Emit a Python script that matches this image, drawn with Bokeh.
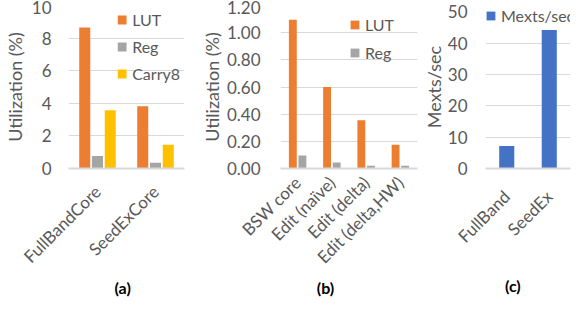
from bokeh.plotting import figure
from bokeh.models import (Range1d, ColumnDataSource, Legend, LegendItem,
                          LinearAxis, FixedTicker, NumeralTickFormatter)
from bokeh.transform import dodge
from bokeh.layouts import row
from bokeh.embed import file_html
from bokeh.resources import INLINE
import math

# ---- data ----
a_cats = ["FullBandCore", "SeedExCore"]
a_lut = [8.65, 3.82]
a_reg = [0.76, 0.35]
a_carry = [3.58, 1.45]

b_cats = ["BSW core", "Edit (naïve)", "Edit (delta)", "Edit (delta,HW)"]
b_lut = [1.095, 0.60, 0.355, 0.175]
b_reg = [0.095, 0.045, 0.02, 0.02]

c_cats = ["FullBand", "SeedEx"]
c_rate = [7.2, 44.2]

FONT = "Lato"
TXT = "#595959"
GRID = "#D9D9D9"
ORANGE = "#ED7D31"
GRAY = "#A5A5A5"
YELLOW = "#FFC000"
BLUE = "#4472C4"


def base_fig(cats, yr, w, h, bl, br, bt, bb, ylabel, yticks, tick_sd, lab_sd, x_sd):
    n = len(cats)
    p = figure(x_range=Range1d(-0.5, n - 0.5), y_range=Range1d(*yr),
               width=w, height=h,
               output_backend="svg", toolbar_location=None,
               min_border_left=bl, min_border_right=br, min_border_top=bt, min_border_bottom=bb)
    p.outline_line_color = None
    p.background_fill_color = "white"
    p.border_fill_color = "white"
    p.xgrid.grid_line_color = None
    p.ygrid.grid_line_color = GRID
    p.ygrid.grid_line_width = 1
    p.yaxis.ticker = FixedTicker(ticks=yticks)
    p.yaxis.axis_line_color = None
    p.yaxis.major_tick_line_color = None
    p.yaxis.minor_tick_line_color = None
    p.yaxis.major_tick_out = 0
    p.yaxis.major_tick_in = 0
    p.yaxis.minor_tick_out = 0
    p.yaxis.major_label_standoff = tick_sd
    p.yaxis.major_label_text_font = FONT
    p.yaxis.major_label_text_font_size = "17px"
    p.yaxis.major_label_text_color = TXT
    p.yaxis.axis_label = ylabel
    p.yaxis.axis_label_text_font = FONT
    p.yaxis.axis_label_text_font_size = "18px"
    p.yaxis.axis_label_text_font_style = "normal"
    p.yaxis.axis_label_text_color = TXT
    p.yaxis.axis_label_standoff = lab_sd
    # category axis: one tick per category index, labelled with the category name
    p.xaxis.ticker = FixedTicker(ticks=list(range(n)))
    p.xaxis.major_label_overrides = {i: c for i, c in enumerate(cats)}
    p.xaxis.axis_line_color = GRID
    p.xaxis.axis_line_width = 2
    p.xaxis.major_tick_line_color = None
    p.xaxis.minor_tick_line_color = None
    p.xaxis.major_tick_out = 0
    p.xaxis.major_tick_in = 0
    p.xaxis.minor_tick_out = 0
    p.xaxis.minor_tick_in = 0
    p.xaxis.major_label_orientation = math.pi / 4
    p.xaxis.major_label_standoff = x_sd
    p.xaxis.major_label_text_font = FONT
    p.xaxis.major_label_text_font_size = "17px"
    p.xaxis.major_label_text_color = TXT
    return p


def add_panel_title(p, text, frame_w, pos, standoff):
    # a second, bare bottom axis whose single tick label is the panel caption
    p.extra_x_ranges = {"ttl": Range1d(0, frame_w)}
    ax = LinearAxis(x_range_name="ttl", ticker=FixedTicker(ticks=[pos]),
                    major_label_overrides={pos: text})
    ax.axis_line_color = None
    ax.major_tick_line_color = None
    ax.minor_tick_line_color = None
    ax.major_tick_out = 0
    ax.major_tick_in = 0
    ax.minor_tick_out = 0
    ax.minor_tick_in = 0
    ax.major_label_standoff = standoff
    ax.major_label_text_font = FONT
    ax.major_label_text_font_size = "16px"
    ax.major_label_text_font_style = "bold"
    ax.major_label_text_color = "black"
    p.add_layout(ax, "below")


def make_legend(items, loc, spacing, margin, label_width=20, white=False):
    return Legend(items=items, location=loc, orientation="vertical",
                  glyph_width=11, glyph_height=11, label_height=20, label_standoff=5,
                  label_width=label_width,
                  spacing=spacing, padding=0, margin=margin,
                  label_text_font=FONT, label_text_font_size="16px", label_text_color=TXT,
                  border_line_color=None,
                  background_fill_color="white", background_fill_alpha=(1 if white else 0))


# ---- panel (a) ----
pa = base_fig(a_cats, (0, 10), 197, 307, 64, 13, 5, 139, "Utilization (%)",
              [0, 2, 4, 6, 8, 10], 17, 3, 20)
sa = ColumnDataSource(dict(x=list(range(len(a_cats))), lut=a_lut, reg=a_reg, carry=a_carry))
r1 = pa.vbar(x=dodge("x", -0.22), top="lut", width=0.19, source=sa,
             fill_color=ORANGE, line_color=None)
r2 = pa.vbar(x=dodge("x", 0.0), top="reg", width=0.19, source=sa,
             fill_color=GRAY, line_color=None)
r3 = pa.vbar(x=dodge("x", 0.22), top="carry", width=0.19, source=sa,
             fill_color=YELLOW, line_color=None)
pa.add_layout(make_legend([LegendItem(label="LUT", renderers=[r1]),
                           LegendItem(label="Reg", renderers=[r2]),
                           LegendItem(label="Carry8", renderers=[r3])], "top_right", 7, 4))
add_panel_title(pa, "(a)", 120, 56, 0)

# ---- panel (b) ----
pb = base_fig(b_cats, (0, 1.2), 222, 307, 83, 2, 5, 139, "Utilization (%)",
              [0, 0.2, 0.4, 0.6, 0.8, 1.0, 1.2], 20, 1, 11)
pb.yaxis.formatter = NumeralTickFormatter(format="0.00")
sb = ColumnDataSource(dict(x=list(range(len(b_cats))), lut=b_lut, reg=b_reg))
q1 = pb.vbar(x=dodge("x", -0.14), top="lut", width=0.23, source=sb,
             fill_color=ORANGE, line_color=None)
q2 = pb.vbar(x=dodge("x", 0.14), top="reg", width=0.23, source=sb,
             fill_color=GRAY, line_color=None)
pb.add_layout(make_legend([LegendItem(label="LUT", renderers=[q1]),
                           LegendItem(label="Reg", renderers=[q2])], "top_right", 8, 9,
                          label_width=43))
add_panel_title(pb, "(b)", 137, 45, 0)

# ---- panel (c) ----
pc = base_fig(c_cats, (0, 52), 152, 307, 61, 1, 5, 139, "Mexts/sec",
              [0, 10, 20, 30, 40, 50], 18, 0, 25)
sc = ColumnDataSource(dict(x=list(range(len(c_cats))), rate=c_rate))
w1 = pc.vbar(x="x", top="rate", width=0.355, source=sc, fill_color=BLUE, line_color=None)
pc.add_layout(make_legend([LegendItem(label="Mexts/sec", renderers=[w1])], "top_left", 0, 0,
                          white=True))
add_panel_title(pc, "(c)", 90, 29, 18)

layout = row(pa, pb, pc)
open("out.html", "w").write(file_html(layout, INLINE))
